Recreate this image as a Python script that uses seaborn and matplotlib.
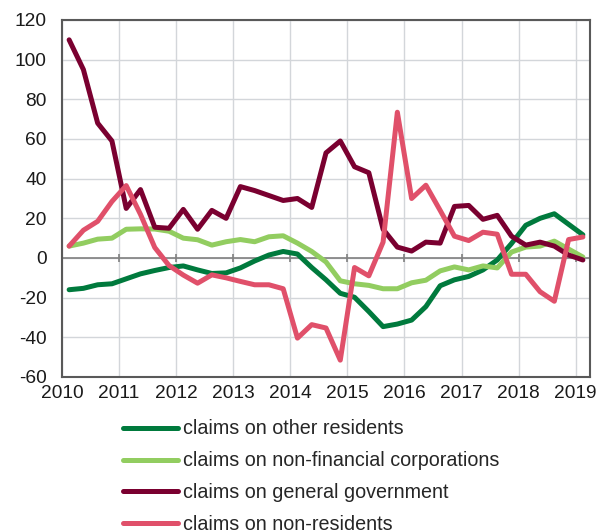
import numpy as np
import pandas as pd
import matplotlib
matplotlib.use("Agg")
import matplotlib.pyplot as plt
import seaborn as sns
from matplotlib.lines import Line2D

# Quarterly data, 2010Q1 .. 2019Q1
start_year = 2010
n_quarters = 37
years = list(range(2010, 2020))

other_residents = [-16, -15.3, -13.5, -13, -10.5, -8, -6.3, -4.8, -4, -6,
                   -7.8, -7.5, -5, -1.5, 1.5, 3.3, 2, -4.8, -11, -17.8,
                   -19.8, -27, -34.6, -33.3, -31.3, -24.5, -14, -11, -9.3, -6,
                   -1, 7.3, 16.5, 20, 22.3, 17, 11.7]
non_fin_corp = [6, 7.5, 9.5, 10, 14.5, 14.7, 14.6, 13.5, 10, 9.2,
                6.5, 8.2, 9.3, 8.2, 10.7, 11.2, 7.5, 3.3, -2, -11.5,
                -13, -13.8, -15.5, -15.5, -12.5, -11.2, -6.5, -4.5, -6, -4,
                -5, 3, 5.5, 6, 8.5, 4.5, 0.5]
general_gov = [110, 95, 68, 59, 25, 34.5, 15.5, 15, 24.5, 14.5,
               24, 20, 36, 34, 31.5, 29, 30, 25.5, 53, 59,
               46, 43, 14.5, 5.5, 3.5, 8, 7.5, 26, 26.5, 19.5,
               21.5, 11, 6.5, 8, 6, 1.5, -1]
non_residents = [6, 14, 18.5, 28.5, 36.5, 22, 5.3, -3.8, -8.6, -12.7,
                 -8.5, -10, -11.8, -13.5, -13.5, -15.5, -40.4, -33.6, -35.3, -51.5,
                 -4.8, -9, 8, 73.5, 30, 36.7, 24, 11, 8.8, 13,
                 12, -8.2, -8.2, -17, -21.8, 9.3, 10.6]

labels = ["claims on other residents",
          "claims on non-financial corporations",
          "claims on general government",
          "claims on non-residents"]
colors = ["#007A3D", "#92CD60", "#7A0030", "#E0506A"]
series = [other_residents, non_fin_corp, general_gov, non_residents]

# x position: middle of each quarter
xq = start_year + 0.125 + 0.25 * np.arange(n_quarters)
frames = []
for lab, vals in zip(labels, series):
    frames.append(pd.DataFrame({"x": xq, "value": vals, "series": lab}))
df = pd.concat(frames, ignore_index=True)

sns.set_style("white")
plt.rcParams["font.family"] = ["Liberation Sans", "DejaVu Sans"]
plt.rcParams["axes.unicode_minus"] = False

fig = plt.figure(figsize=(6.06, 5.31), dpi=100)
ax = fig.add_axes([62 / 606, 1 - 377 / 531, (590 - 62) / 606, (377 - 20) / 531])

grid_c = "#D3D6DA"
for y in range(-60, 121, 20):
    ax.axhline(y, color=grid_c, lw=1.0, zorder=0)
for yr in years:
    ax.axvline(yr, color=grid_c, lw=1.0, zorder=0)
ax.axhline(0, color="#808080", lw=1.2, zorder=1)
ax.vlines(years, -2.2, 2.2, color="#808080", lw=1.2, zorder=1)

sns.lineplot(data=df, x="x", y="value", hue="series", palette=colors,
             hue_order=labels, linewidth=3.6, ax=ax, legend=False, zorder=3,
             solid_capstyle="round", solid_joinstyle="round")

ax.set_xlim(2010, 2019.25)
ax.set_ylim(-60, 120)
ax.set_xticks(years)
ax.set_xticklabels([str(y) for y in years])
ax.set_yticks(range(-60, 121, 20))
ax.set_xlabel("")
ax.set_ylabel("")
ax.tick_params(axis="both", length=0, labelsize=13.8, colors="#1A1A1A")
ax.tick_params(axis="y", pad=11)
ax.tick_params(axis="x", pad=5.5)
for s in ax.spines.values():
    s.set_color("#595959")
    s.set_linewidth(1.5)
    s.set_visible(True)

handles = [Line2D([0], [0], color=c, lw=3.6, solid_capstyle="round") for c in colors]
fig.legend(handles, labels, loc="upper left", bbox_to_anchor=(123 / 606, 1 - 419.5 / 531),
           frameon=False, fontsize=14.2, handlelength=2.8, handletextpad=0.24,
           labelspacing=0.655, borderaxespad=0, borderpad=0)

fig.savefig("out.png", dpi=100)
